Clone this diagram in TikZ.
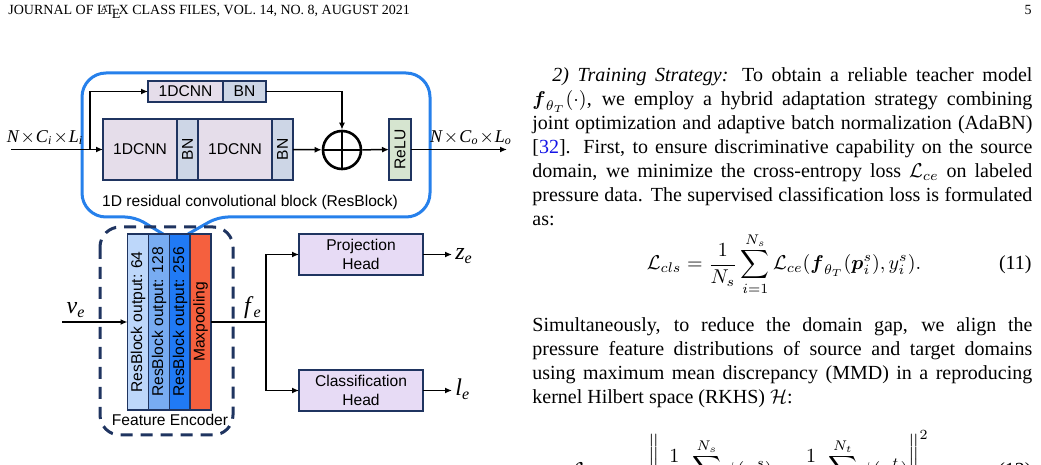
\documentclass[tikz,border=0pt]{standalone}
\usepackage{amsmath}
\usepackage{fontspec}
\setmainfont{Liberation Serif}
\setsansfont{Liberation Sans}
\usetikzlibrary{positioning,arrows.meta}

\definecolor{resblue}{RGB}{38,128,235}
\definecolor{navy}{RGB}{31,52,96}
\definecolor{cnnfill}{RGB}{229,221,234}
\definecolor{bnfill}{RGB}{205,214,230}
\definecolor{relufill}{RGB}{214,229,208}
\definecolor{outa}{RGB}{189,215,250}
\definecolor{outb}{RGB}{120,172,242}
\definecolor{outc}{RGB}{32,122,245}
\definecolor{poolfill}{RGB}{245,96,62}
\definecolor{headfill}{RGB}{231,219,245}
\definecolor{citeblue}{RGB}{20,20,230}

\newcommand{\ncl}[1]{\textit{N}\kern.5pt$\times$\kern.5pt\textit{C}$_{\textit{#1}}$\kern.5pt$\times$\kern.5pt\textit{L}$_{\textit{#1}}$}
\newcommand{\vsub}[2]{\textit{#1}$_{\textit{#2}}$}

\begin{document}
\begin{tikzpicture}[x=0.5pt,y=-0.5pt,
    blk/.style={draw=navy,line width=0.75pt,inner sep=0pt,outer sep=0pt,font=\sffamily\fontsize{7.8}{9}\selectfont},
    cnn/.style={blk,fill=cnnfill},
    bnbox/.style={blk,fill=bnfill},
    col/.style={blk,rotate=90,minimum width=88pt,minimum height=10.5pt},
    head/.style={blk,fill=headfill,minimum width=62pt,minimum height=20.5pt,align=center,font=\sffamily\fontsize{7.8}{9.3}\selectfont},
    arr/.style={line width=0.75pt,-{Latex[length=3.5pt,width=3pt]}},
    lab/.style={inner sep=0pt,font=\fontsize{10}{12}\selectfont},
    dimlab/.style={inner sep=0pt,font=\fontsize{9}{11}\selectfont},
    vlab/.style={inner sep=0pt,font=\fontsize{12}{14}\selectfont},
    para/.style={inner sep=0pt,text width=250pt,align=justify,anchor=base west,font=\fontsize{10}{12}\selectfont}
  ]
  \clip (0,0) rectangle (1041,465);

  \node[anchor=base west,inner sep=0pt,font=\fontsize{7}{8}\selectfont] (runhead) at (8,15) {JOURNAL OF \LaTeX\ CLASS FILES, VOL. 14, NO. 8, AUGUST 2021};
  \node[anchor=base east,inner sep=0pt,font=\fontsize{7}{8}\selectfont] (pageno) at (1032,15) {5};

  \draw[resblue,line width=1.5pt] (163,234) [rounded corners=5pt] -- (135,217) [rounded corners=12pt] -- (82,217) -- (82,73) -- (430,73) -- (430,217) [rounded corners=5pt] -- (218,217) [sharp corners] -- (188,234);

  \node[cnn,minimum width=37.5pt,minimum height=10.5pt] (cnn0) at (185.5,91.5) {1DCNN};
  \node[bnbox,minimum width=21.5pt,minimum height=10.5pt,right=0pt of cnn0] (bn0) {BN};
  \node[cnn,minimum width=37pt,minimum height=30.5pt] (cnn1) at (140,149.5) {1DCNN};
  \node[bnbox,rotate=90,minimum width=30.5pt,minimum height=10.5pt,anchor=north] (bn1) at (cnn1.east) {BN};
  \node[cnn,minimum width=37pt,minimum height=30.5pt,anchor=west] (cnn2) at (bn1.south) {1DCNN};
  \node[bnbox,rotate=90,minimum width=30.5pt,minimum height=10.5pt,anchor=north] (bn2) at (cnn2.east) {BN};
  \node[draw,circle,line width=1.3pt,minimum size=19pt,inner sep=0pt,
    path picture={\draw[line width=1.3pt] (path picture bounding box.north) -- (path picture bounding box.south)
      (path picture bounding box.west) -- (path picture bounding box.east);}] (sum) at (342,150) {};
  \node[blk,fill=relufill,rotate=90,minimum width=30.5pt,minimum height=11pt] (relu) at (400,149.5) {ReLU};
  \node[blk,draw=none,font=\sffamily\fontsize{7.8}{9}\selectfont] (rescap) at (250,202) {1D residual convolutional block (ResBlock)};

  \coordinate (xin) at (11,149.5);
  \coordinate (xbr) at (90,149.5);
  \coordinate (xout) at (507,149.5);
  \draw[arr] (xin) -- (cnn1);
  \draw[arr] (xbr) |- (cnn0);
  \draw[arr] (bn0) -| (sum);
  \draw[arr] (bn2.south) -- (sum);
  \draw[arr] (sum) -- (relu);
  \draw[arr] (relu.south) -- (xout);
  \node[dimlab,anchor=base] (inlab) at (45,143) {\ncl{i}};
  \node[dimlab,anchor=base] (outlab) at (471,143) {\ncl{o}};

  \draw[navy,line width=1.5pt,dash pattern=on 6pt off 4pt,rounded corners=10pt] (100,227) rectangle (233,435);
  \node[col,fill=outa] (c1) at (138,322) {ResBlock output: 64};
  \node[col,fill=outb] (c2) at (159,322) {ResBlock output: 128};
  \node[col,fill=outc] (c3) at (180,322) {ResBlock output: 256};
  \node[col,fill=poolfill] (c4) at (200.5,322) {Maxpooling};
  \node[blk,draw=none] (enccap) at (170,420) {Feature Encoder};

  \node[head] (proj) at (361,254.5) {Projection\\Head};
  \node[head] (cls) at (361,390.5) {Classification\\Head};

  \coordinate (vin) at (62,322);
  \coordinate (fbr) at (266,322);
  \coordinate (zout) at (452,254.5);
  \coordinate (lout) at (452,390.5);
  \draw[arr] (vin) -- (c1.north);
  \draw[line width=0.75pt] (c4.south) -- (fbr);
  \draw[arr] (fbr) |- (proj);
  \draw[arr] (fbr) |- (cls);
  \draw[arr] (proj) -- (zout);
  \draw[arr] (cls) -- (lout);
  \node[vlab,anchor=base] (vlab) at (76,314) {\vsub{v}{e}};
  \node[vlab,anchor=base] (flab) at (253,314) {\vsub{f}{e}};
  \node[vlab,anchor=base west] (zlab) at (455,260) {\vsub{z}{e}};
  \node[vlab,anchor=base west] (llab) at (455,396) {\vsub{l}{e}};

  \node[para] (parone) at (532,82) {\hspace*{10pt}\textit{2) Training Strategy:} To obtain a reliable teacher model\linebreak
    $\boldsymbol{f}_{\theta_T}(\cdot)$, we employ a hybrid adaptation strategy combining\linebreak
    joint optimization and adaptive batch normalization (AdaBN)\linebreak{}
    {[}\textcolor{citeblue}{32}{]}. First, to ensure discriminative capability on the source\linebreak
    domain, we minimize the cross-entropy loss $\mathcal{L}_{ce}$ on labeled\linebreak
    pressure data. The supervised classification loss is formulated\linebreak
    as:};
  \node[lab,anchor=base] (eqone) at (784,270) {$\displaystyle \mathcal{L}_{cls}=\frac{1}{N_s}\sum_{i=1}^{N_s}\mathcal{L}_{ce}(\boldsymbol{f}_{\theta_T}(\boldsymbol{p}_i^s),y_i^s).$};
  \node[lab,anchor=base east] (numone) at (1032,270) {(11)};
  \node[para] (partwo) at (532,332) {Simultaneously, to reduce the domain gap, we align the\linebreak
    pressure feature distributions of source and target domains\linebreak
    using maximum mean discrepancy (MMD) in a reproducing\linebreak
    kernel Hilbert space (RKHS) $\mathcal{H}$:};
  \node[lab,anchor=base west] (eqtwo) at (570,476) {$\displaystyle \mathcal{L}_{mmd}=\left\|\frac{1}{N_s}\sum_{i=1}^{N_s}\phi(\boldsymbol{p}_i^s)-\frac{1}{N_t}\sum_{j=1}^{N_t}\phi(\boldsymbol{p}_j^t)\right\|_{\mathcal{H}}^2$};
  \node[lab,anchor=base east] (numtwo) at (1032,476) {(12)};
\end{tikzpicture}
\end{document}
